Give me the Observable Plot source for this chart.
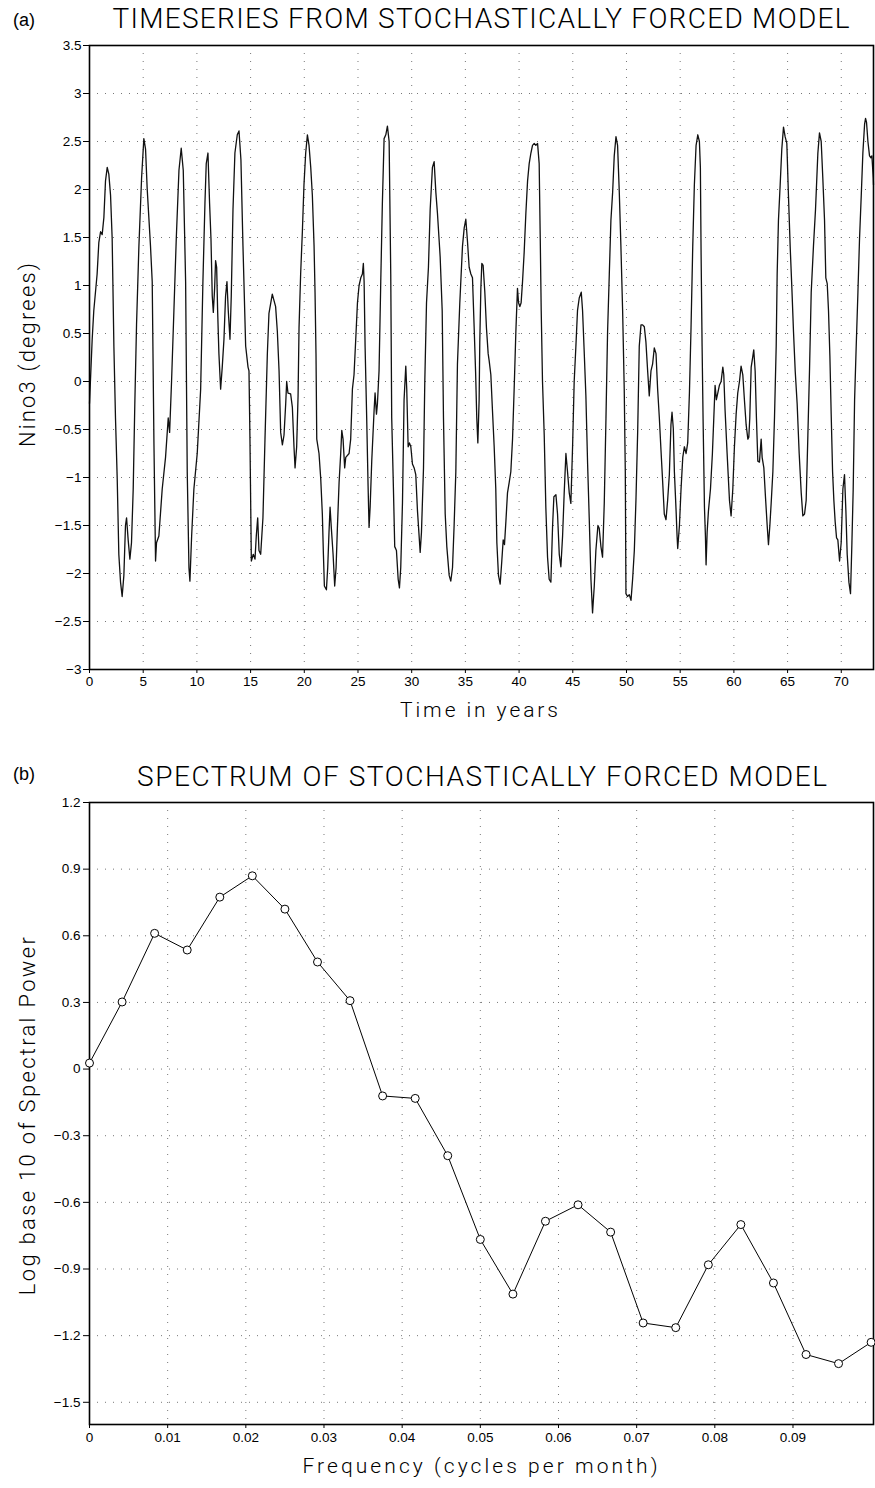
<!DOCTYPE html>
<html>
<head>
<meta charset="utf-8">
<script src="https://cdn.jsdelivr.net/npm/d3@7"></script>
<script src="https://cdn.jsdelivr.net/npm/@observablehq/plot@0.6"></script>
<style>
  html, body { margin: 0; padding: 0; background: #fff; }
  #root { position: relative; width: 875px; height: 1488px; background: #fff; overflow: hidden; }
  .panel { position: absolute; left: 0; }
</style>
</head>
<body>
<div id="root"></div>
<script>
// ---------------- DATA ----------------
// Panel (a): Nino3 timeseries, [time in years, degrees]
const nino3Series = [
  [0.00,-0.23],[0.25,0.44],[0.40,0.74],[0.71,1.12],[0.87,1.45],[1.03,1.56],[1.18,1.53],[1.34,1.71],[1.49,2.09],[1.65,2.23],
  [1.80,2.16],[1.96,1.94],[2.11,1.49],[2.27,0.37],[2.42,-0.38],[2.58,-1.01],[2.73,-1.80],[2.89,-2.09],[3.04,-2.24],[3.20,-2.02],
  [3.35,-1.50],[3.45,-1.42],[3.60,-1.65],[3.76,-1.85],[3.91,-1.68],[4.07,-1.12],[4.22,-0.23],[4.38,0.59],[4.60,1.41],[4.85,2.12],
  [5.06,2.53],[5.22,2.42],[5.37,2.01],[5.68,1.41],[5.84,1.04],[6.00,-0.64],[6.15,-1.87],[6.24,-1.68],[6.46,-1.61],[6.77,-1.12],
  [7.08,-0.79],[7.33,-0.38],[7.46,-0.53],[7.64,0.00],[7.86,0.74],[8.08,1.49],[8.33,2.20],[8.54,2.43],[8.73,2.20],[8.95,1.04],
  [9.10,-0.94],[9.26,-1.94],[9.35,-2.08],[9.51,-1.61],[9.72,-1.12],[10.03,-0.75],[10.35,-0.08],[10.56,1.04],[10.75,1.86],[10.87,2.27],
  [11.03,2.38],[11.18,1.86],[11.31,1.49],[11.43,0.89],[11.53,0.72],[11.65,0.97],[11.74,1.26],[11.84,1.19],[11.93,0.74],[12.05,0.29],
  [12.21,-0.08],[12.36,0.15],[12.52,0.44],[12.67,0.89],[12.80,1.04],[12.92,0.74],[13.08,0.44],[13.20,0.89],[13.36,1.79],[13.54,2.38],
  [13.76,2.57],[13.92,2.61],[14.10,2.31],[14.29,1.41],[14.54,0.37],[14.76,0.15],[14.85,0.11],[14.94,-0.60],[15.07,-1.87],[15.25,-1.80],
  [15.41,-1.85],[15.53,-1.61],[15.66,-1.42],[15.78,-1.76],[15.94,-1.80],[16.15,-1.42],[16.34,-0.60],[16.56,0.29],[16.71,0.71],[17.02,0.91],
  [17.33,0.78],[17.49,0.52],[17.65,0.11],[17.80,-0.53],[17.96,-0.66],[18.11,-0.56],[18.27,-0.23],[18.36,0.00],[18.48,-0.12],[18.73,-0.13],
  [18.89,-0.27],[19.04,-0.68],[19.14,-0.90],[19.29,-0.68],[19.42,-0.15],[19.51,0.56],[19.66,1.12],[19.82,1.56],[19.97,2.05],[20.13,2.38],
  [20.29,2.57],[20.44,2.46],[20.60,2.23],[20.75,1.94],[20.91,1.41],[21.00,0.93],[21.09,0.29],[21.16,-0.60],[21.37,-0.75],[21.53,-1.01],
  [21.68,-1.38],[21.78,-1.80],[21.87,-2.13],[22.06,-2.17],[22.18,-1.94],[22.30,-1.57],[22.40,-1.31],[22.52,-1.53],[22.68,-1.80],[22.83,-2.13],
  [22.96,-1.94],[23.08,-1.53],[23.24,-1.05],[23.39,-0.75],[23.49,-0.51],[23.61,-0.60],[23.76,-0.90],[23.86,-0.79],[24.17,-0.75],[24.32,-0.60],
  [24.48,-0.08],[24.63,0.07],[24.79,0.44],[24.95,0.82],[25.10,1.00],[25.26,1.08],[25.41,1.12],[25.50,1.23],[25.57,1.04],[25.66,0.37],
  [25.81,-0.38],[25.94,-1.09],[26.03,-1.52],[26.13,-1.31],[26.28,-0.83],[26.50,-0.30],[26.59,-0.12],[26.72,-0.34],[26.81,-0.23],[26.96,0.11],
  [27.12,1.04],[27.27,1.86],[27.43,2.53],[27.59,2.57],[27.74,2.66],[27.90,2.50],[28.05,1.12],[28.14,-0.38],[28.30,-1.12],[28.42,-1.72],
  [28.58,-1.76],[28.74,-2.06],[28.86,-2.15],[28.98,-1.94],[29.14,-1.27],[29.29,-0.19],[29.45,0.16],[29.54,-0.08],[29.67,-0.68],[29.79,-0.64],
  [29.92,-0.68],[30.07,-0.86],[30.23,-0.90],[30.38,-0.97],[30.54,-1.35],[30.79,-1.78],[30.91,-1.57],[31.10,-0.90],[31.22,0.00],[31.38,0.82],
  [31.56,1.19],[31.72,1.79],[31.93,2.23],[32.09,2.29],[32.25,1.97],[32.40,1.75],[32.65,1.30],[32.84,0.74],[32.96,-0.38],[33.12,-1.38],
  [33.27,-1.72],[33.49,-2.02],[33.64,-2.08],[33.80,-1.94],[33.95,-1.50],[34.11,-0.94],[34.26,0.18],[34.48,0.82],[34.73,1.41],[34.89,1.60],
  [35.04,1.69],[35.20,1.45],[35.35,1.19],[35.51,1.12],[35.66,1.08],[35.82,0.55],[35.95,0.10],[36.06,-0.38],[36.16,-0.64],[36.28,-0.19],
  [36.34,0.41],[36.44,0.97],[36.53,1.23],[36.65,1.21],[36.81,0.93],[36.96,0.56],[37.12,0.29],[37.21,0.22],[37.37,0.07],[37.52,-0.30],
  [37.68,-0.68],[37.83,-1.12],[37.93,-1.68],[38.08,-2.02],[38.24,-2.11],[38.39,-1.87],[38.52,-1.65],[38.64,-1.70],[38.77,-1.46],[38.92,-1.16],
  [39.08,-1.05],[39.23,-0.94],[39.39,-0.60],[39.54,-0.08],[39.70,0.52],[39.85,0.97],[39.95,0.82],[40.07,0.78],[40.19,0.82],[40.32,1.04],
  [40.47,1.34],[40.63,1.75],[40.79,2.09],[40.94,2.27],[41.10,2.38],[41.25,2.46],[41.41,2.48],[41.56,2.46],[41.72,2.48],[41.87,2.27],
  [41.97,1.49],[42.06,0.74],[42.18,0.00],[42.34,-0.56],[42.49,-1.31],[42.65,-1.83],[42.80,-2.06],[42.96,-2.09],[43.12,-1.50],[43.24,-1.20],
  [43.43,-1.18],[43.58,-1.38],[43.74,-1.80],[43.89,-1.93],[44.05,-1.61],[44.20,-1.16],[44.36,-0.75],[44.51,-0.94],[44.67,-1.16],[44.82,-1.27],
  [44.98,-0.68],[45.13,0.00],[45.29,0.37],[45.44,0.74],[45.60,0.87],[45.79,0.93],[45.91,0.74],[46.07,0.29],[46.22,-0.15],[46.38,-0.86],
  [46.53,-1.42],[46.69,-2.06],[46.84,-2.41],[47.00,-2.13],[47.15,-1.76],[47.34,-1.50],[47.46,-1.53],[47.62,-1.72],[47.77,-1.83],[47.93,-1.27],
  [48.09,-0.38],[48.24,0.52],[48.40,1.12],[48.55,1.68],[48.71,1.97],[48.86,2.35],[49.02,2.55],[49.17,2.46],[49.33,1.97],[49.48,1.41],
  [49.64,0.74],[49.79,-0.08],[49.89,-0.94],[49.95,-2.21],[50.10,-2.24],[50.26,-2.22],[50.42,-2.28],[50.57,-2.06],[50.73,-1.76],[50.88,-1.24],
  [51.04,-0.53],[51.19,0.37],[51.35,0.59],[51.50,0.59],[51.66,0.57],[51.81,0.41],[51.97,0.11],[52.12,-0.15],[52.28,0.11],[52.43,0.18],
  [52.59,0.35],[52.75,0.29],[52.90,-0.08],[53.06,-0.38],[53.21,-0.71],[53.37,-1.05],[53.52,-1.38],[53.68,-1.44],[53.83,-1.24],[53.99,-0.97],
  [54.14,-0.45],[54.24,-0.32],[54.36,-0.49],[54.46,-0.94],[54.62,-1.35],[54.71,-1.61],[54.77,-1.74],[54.93,-1.50],[55.08,-1.12],[55.24,-0.79],
  [55.39,-0.68],[55.55,-0.75],[55.70,-0.64],[55.86,-0.12],[56.01,0.56],[56.17,1.41],[56.32,2.05],[56.48,2.46],[56.64,2.57],[56.79,2.50],
  [56.88,2.23],[56.95,1.30],[57.04,0.37],[57.13,-0.38],[57.26,-1.31],[57.35,-1.61],[57.41,-1.91],[57.51,-1.57],[57.63,-1.35],[57.82,-1.12],
  [58.00,-0.75],[58.13,-0.38],[58.25,-0.04],[58.37,-0.19],[58.50,-0.12],[58.65,-0.04],[58.81,0.00],[58.97,0.15],[59.06,0.07],[59.18,-0.30],
  [59.37,-0.75],[59.59,-1.24],[59.74,-1.40],[59.90,-1.12],[60.05,-0.68],[60.21,-0.34],[60.36,-0.12],[60.52,0.00],[60.67,0.16],[60.83,0.07],
  [60.98,-0.19],[61.14,-0.45],[61.30,-0.60],[61.39,-0.58],[61.48,-0.38],[61.61,0.15],[61.76,0.26],[61.85,0.33],[61.98,0.11],[62.10,-0.38],
  [62.23,-0.83],[62.38,-0.84],[62.54,-0.60],[62.63,-0.79],[62.79,-0.90],[62.94,-1.20],[63.10,-1.50],[63.22,-1.70],[63.35,-1.50],[63.47,-1.27],
  [63.63,-0.94],[63.78,-0.38],[63.94,0.37],[64.03,1.12],[64.15,1.68],[64.31,2.05],[64.46,2.42],[64.62,2.65],[64.77,2.55],[64.93,2.48],
  [65.08,1.94],[65.24,1.41],[65.40,0.97],[65.55,0.52],[65.71,0.11],[65.89,-0.23],[66.08,-0.75],[66.27,-1.16],[66.42,-1.40],[66.58,-1.38],
  [66.73,-1.24],[66.89,-0.56],[67.04,0.11],[67.20,0.93],[67.41,1.41],[67.60,1.79],[67.82,2.38],[67.97,2.59],[68.13,2.50],[68.28,2.12],
  [68.44,1.68],[68.56,1.08],[68.69,1.02],[68.81,0.74],[68.94,0.26],[69.06,-0.34],[69.19,-0.94],[69.31,-1.24],[69.43,-1.46],[69.56,-1.63],
  [69.68,-1.65],[69.84,-1.87],[69.99,-1.68],[70.15,-1.12],[70.30,-0.97],[70.43,-1.35],[70.55,-1.80],[70.71,-2.09],[70.86,-2.21],[70.99,-1.68],
  [71.11,-1.12],[71.24,-0.19],[71.39,0.37],[71.55,0.93],[71.70,1.49],[71.86,1.94],[72.01,2.38],[72.17,2.68],[72.26,2.74],[72.35,2.70],
  [72.48,2.50],[72.63,2.35],[72.76,2.33],[72.85,2.35],[72.98,2.12],[73.00,2.05]
];
const timeTicks = [0, 5, 10, 15, 20, 25, 30, 35, 40, 45, 50, 55, 60, 65, 70];
const nino3Ticks = [-3, -2.5, -2, -1.5, -1, -0.5, 0, 0.5, 1, 1.5, 2, 2.5, 3, 3.5];

// Panel (b): spectrum
const frequencies = [0, 0.00417, 0.00833, 0.0125, 0.01667, 0.02083, 0.025, 0.02917, 0.03333, 0.0375,
  0.04167, 0.04583, 0.05, 0.05417, 0.05833, 0.0625, 0.06667, 0.07083, 0.075, 0.07917,
  0.08333, 0.0875, 0.09167, 0.09583, 0.1];
const logPower = [0.027, 0.302, 0.611, 0.536, 0.774, 0.870, 0.720, 0.482, 0.308, -0.121,
  -0.132, -0.390, -0.767, -1.013, -0.685, -0.611, -0.734, -1.143, -1.164, -0.881,
  -0.700, -0.963, -1.285, -1.326, -1.230];
const freqTicks = [0, 0.01, 0.02, 0.03, 0.04, 0.05, 0.06, 0.07, 0.08, 0.09];
const powerTicks = [-1.5, -1.2, -0.9, -0.6, -0.3, 0, 0.3, 0.6, 0.9, 1.2];

// ---------------- DRAW ----------------
const root = document.getElementById("root");
const tickFamily = "'Liberation Sans', Arial, sans-serif";
const gridStyle = {stroke: "#777", strokeOpacity: 1, strokeWidth: 1, strokeDasharray: "1,7"};
const plainFormat = d => (d < 0 ? "\u2212" : "") + String(Math.abs(d));
const axisStyle = {tickFormat: plainFormat, fontSize: 13.5, fontFamily: tickFamily, label: null, stroke: "#000", fill: "#000"};

const seriesRows = nino3Series.map(([year, value]) => ({year, value}));
const chartA = Plot.plot({
  width: 875, height: 730,
  marginLeft: 89, marginRight: 2, marginTop: 45, marginBottom: 61,
  style: `font-family: ${tickFamily}; background: #fff; color: #000; overflow: visible;`,
  x: {domain: [0, 73]},
  y: {domain: [-3, 3.5]},
  marks: [
    Plot.gridX(timeTicks, gridStyle),
    Plot.gridY(nino3Ticks, gridStyle),
    Plot.axisX(timeTicks, {...axisStyle, tickSize: 4, tickPadding: 3}),
    Plot.axisY(nino3Ticks, {...axisStyle, tickSize: 6, tickPadding: 2}),
    Plot.line(seriesRows, {x: "year", y: "value", stroke: "#111", strokeWidth: 1.3}),
    Plot.frame({stroke: "#000", strokeWidth: 1.6})
  ]
});

const spectrumRows = frequencies.map((f, i) => ({f, p: logPower[i]}));
const chartB = Plot.plot({
  width: 875, height: 758,
  marginLeft: 89, marginRight: 2, marginTop: 72, marginBottom: 64,
  style: `font-family: ${tickFamily}; background: #fff; color: #000; overflow: visible;`,
  x: {domain: [0, 0.1003]},
  y: {domain: [-1.6, 1.2]},
  marks: [
    Plot.gridX(freqTicks, gridStyle),
    Plot.gridY(powerTicks, gridStyle),
    Plot.axisX(freqTicks, {...axisStyle, tickSize: 4, tickPadding: 4}),
    Plot.axisY(powerTicks, {...axisStyle, tickSize: 6, tickPadding: 3}),
    Plot.frame({stroke: "#000", strokeWidth: 1.6}),
    Plot.line(spectrumRows, {x: "f", y: "p", stroke: "#000", strokeWidth: 1}),
    Plot.dot(spectrumRows, {x: "f", y: "p", r: 4, fill: "#fff", stroke: "#000", strokeWidth: 1})
  ]
});

function addPanel(chart, top) {
  const d = document.createElement("div");
  d.className = "panel";
  d.style.top = top + "px";
  d.appendChild(chart);
  root.appendChild(d);
}
addPanel(chartA, 0);
addPanel(chartB, 730);

// text labels (titles, panel letters, axis titles)
function addText(txt, o) {
  const el = document.createElement("div");
  el.textContent = txt;
  Object.assign(el.style, {
    position: "absolute", left: "0px", top: "0px",
    font: `${o.weight || 400} ${o.size}px ${o.family}`,
    lineHeight: "1", whiteSpace: "nowrap", color: "#000"
  });
  root.appendChild(el);
  let ls = 0;
  if (o.width) {
    const w = el.getBoundingClientRect().width;
    ls = (o.width - w) / (txt.length - 1);
    el.style.letterSpacing = ls + "px";
  }
  let cx = o.x, cy = o.y;
  if (o.rotate) cy = o.y - ls / 2; else cx = o.x + ls / 2;
  el.style.left = cx + "px";
  el.style.top = cy + "px";
  el.style.transform = "translate(-50%,-50%)" + (o.rotate ? ` rotate(${o.rotate}deg)` : "");
}
const labelFamily = "Roboto, 'DejaVu Sans', sans-serif";
const letterFamily = "'Liberation Sans', Arial, sans-serif";

addText("(a)", {x: 24, y: 20, size: 18, family: letterFamily});
addText("TIMESERIES FROM STOCHASTICALLY FORCED MODEL", {x: 481, y: 19, size: 28, weight: 300, family: labelFamily, width: 737});
addText("Nino3 (degrees)", {x: 28, y: 355, size: 22, weight: 300, family: labelFamily, width: 184, rotate: -90});
addText("Time in years", {x: 479, y: 710, size: 21, weight: 300, family: labelFamily, width: 158});

addText("(b)", {x: 24, y: 774, size: 18, family: letterFamily});
addText("SPECTRUM OF STOCHASTICALLY FORCED MODEL", {x: 482, y: 777, size: 28, weight: 300, family: labelFamily, width: 690});
addText("Log base 10 of Spectral Power", {x: 28, y: 1116, size: 22, weight: 300, family: labelFamily, width: 358, rotate: -90});
addText("Frequency (cycles per month)", {x: 480, y: 1466, size: 21, weight: 300, family: labelFamily, width: 355});
</script>
</body>
</html>
